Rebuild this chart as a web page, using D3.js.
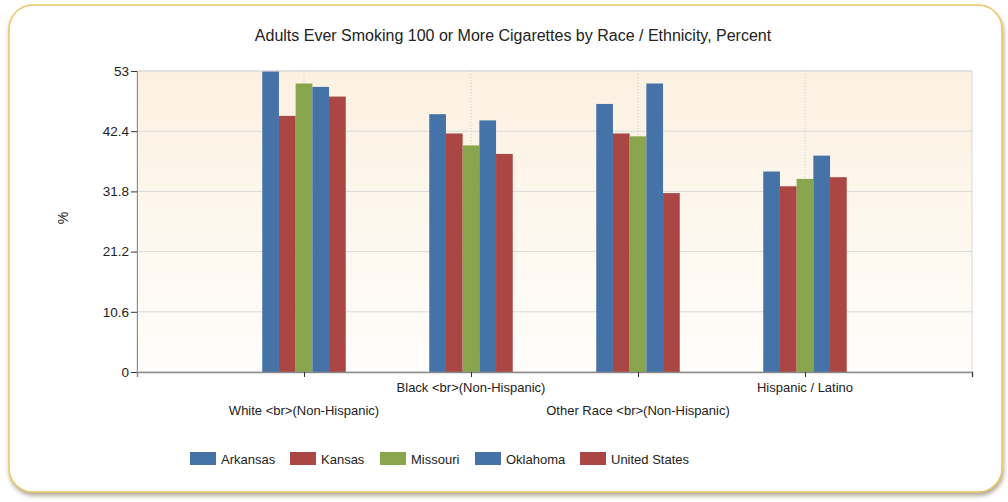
<!DOCTYPE html>
<html>
<head>
<meta charset="utf-8">
<script src="https://cdn.jsdelivr.net/npm/d3@7"></script>
<style>
  body { margin: 0; background: #fff; }
  svg { display: block; font-family: "Liberation Sans", Arial, sans-serif; }
</style>
</head>
<body>
<div id="chart"></div>
<script>
// data
const categories = ["White <br>(Non-Hispanic)", "Black <br>(Non-Hispanic)", "Other Race <br>(Non-Hispanic)", "Hispanic / Latino"];
const series = ["Arkansas", "Kansas", "Missouri", "Oklahoma", "United States"];
const arkansas = [52.9, 45.4, 47.2, 35.3];
const kansas = [45.1, 42.0, 42.0, 32.7];
const missouri = [50.8, 39.9, 41.5, 34.0];
const oklahoma = [50.2, 44.3, 50.8, 38.1];
const unitedStates = [48.5, 38.4, 31.5, 34.3];
const yTicks = [0, 10.6, 21.2, 31.8, 42.4, 53];
const colors = ["#4572a7", "#aa4643", "#89a54e", "#4572a7", "#aa4643"];

const values = [arkansas, kansas, missouri, oklahoma, unitedStates];

const W = 1008, H = 502;
const plot = { left: 137, right: 972, top: 71, bottom: 372 };

const svg = d3.select("#chart").append("svg")
  .attr("width", W).attr("height", H);

const defs = svg.append("defs");

// card shadow
const shadow = defs.append("filter").attr("id", "shadow")
  .attr("x", "-5%").attr("y", "-5%").attr("width", "110%").attr("height", "115%");
shadow.append("feDropShadow")
  .attr("dx", 1).attr("dy", 3).attr("stdDeviation", 2)
  .attr("flood-color", "#7a6a50").attr("flood-opacity", 0.6);

// plot area gradient
const grad = defs.append("linearGradient").attr("id", "plotBg")
  .attr("x1", 0).attr("y1", 0).attr("x2", 0).attr("y2", 1);
grad.append("stop").attr("offset", "0%").attr("stop-color", "#fcf1e1");
grad.append("stop").attr("offset", "100%").attr("stop-color", "#fffdfb");

// outer card
svg.append("rect")
  .attr("x", 9).attr("y", 5)
  .attr("width", 993).attr("height", 487)
  .attr("rx", 24)
  .attr("fill", "#fff")
  .attr("stroke", "#ecc766")
  .attr("stroke-width", 1.5)
  .attr("filter", "url(#shadow)");

// title
svg.append("text")
  .attr("x", 513).attr("y", 41)
  .attr("text-anchor", "middle")
  .style("font-size", "16px")
  .attr("fill", "#222")
  .text("Adults Ever Smoking 100 or More Cigarettes by Race / Ethnicity, Percent");

// scales
const x = d3.scaleLinear().domain([0, categories.length + 1]).range([plot.left, plot.right]);
const step = x(1) - x(0);
const inner = d3.scaleBand().domain(series).range([-step * 0.25, step * 0.25]).padding(0);
const y = d3.scaleLinear().domain([0, 53]).range([plot.bottom, plot.top]);

// plot background
svg.append("rect")
  .attr("x", plot.left).attr("y", plot.top)
  .attr("width", plot.right - plot.left).attr("height", plot.bottom - plot.top)
  .attr("fill", "url(#plotBg)")
  .attr("stroke", "#d8d8d8");

// horizontal gridlines
svg.append("g").selectAll("line")
  .data(yTicks)
  .join("line")
  .attr("x1", plot.left).attr("x2", plot.right)
  .attr("y1", d => y(d)).attr("y2", d => y(d))
  .attr("stroke", "#d9d9d9");

// vertical dotted gridlines at categories
svg.append("g").selectAll("line")
  .data(categories)
  .join("line")
  .attr("x1", (d, i) => x(i + 1)).attr("x2", (d, i) => x(i + 1))
  .attr("y1", plot.top).attr("y2", plot.bottom)
  .attr("stroke", "#c8c8c8")
  .attr("stroke-dasharray", "1,2");

// bars
categories.forEach((c, ci) => {
  svg.append("g")
    .selectAll("rect")
    .data(series)
    .join("rect")
    .attr("x", s => x(ci + 1) + inner(s))
    .attr("width", inner.bandwidth())
    .attr("y", (s, si) => y(values[si][ci]))
    .attr("height", (s, si) => y(0) - y(values[si][ci]))
    .attr("fill", (s, si) => colors[si]);
});

// y axis
const yAxis = d3.axisLeft(y).tickValues(yTicks).tickSize(6).tickPadding(2)
  .tickFormat(d => d);
const yG = svg.append("g")
  .attr("transform", `translate(${plot.left},0)`)
  .call(yAxis);
yG.select(".domain").attr("stroke", "#8c8c8c");
yG.selectAll(".tick line").attr("stroke", "#333");
yG.selectAll(".tick text").style("font-size", "13.5px").attr("fill", "#222")
  .style("font-family", "'Liberation Sans', Arial, sans-serif");

// y label
svg.append("text")
  .attr("transform", "translate(68,218) rotate(-90)")
  .attr("text-anchor", "middle")
  .style("font-size", "14px")
  .attr("fill", "#222")
  .text("%");

// x axis
const xAxis = d3.axisBottom(x)
  .tickValues(d3.range(1, categories.length + 2))
  .tickSize(5).tickFormat("");
const xG = svg.append("g")
  .attr("transform", `translate(0,${plot.bottom})`)
  .call(xAxis);
xG.select(".domain").attr("stroke", "#8c8c8c").attr("stroke-width", 1.5);
xG.selectAll(".tick line").attr("stroke", "#333");

// staggered category labels
svg.append("g").selectAll("text")
  .data(categories)
  .join("text")
  .attr("x", (d, i) => x(i + 1))
  .attr("y", (d, i) => i % 2 === 0 ? 415 : 392)
  .attr("text-anchor", "middle")
  .style("font-size", "13px")
  .attr("fill", "#222")
  .text(d => d);

// legend
const legendX = [190, 290, 380, 475, 580];
const legend = svg.append("g").selectAll("g")
  .data(series)
  .join("g")
  .attr("transform", (d, i) => `translate(${legendX[i]},452)`);
legend.append("rect")
  .attr("width", 26).attr("height", 13)
  .attr("fill", (d, i) => colors[i]);
legend.append("text")
  .attr("x", 31).attr("y", 11.5)
  .style("font-size", "13px")
  .attr("fill", "#222")
  .text(d => d);
</script>
</body>
</html>
